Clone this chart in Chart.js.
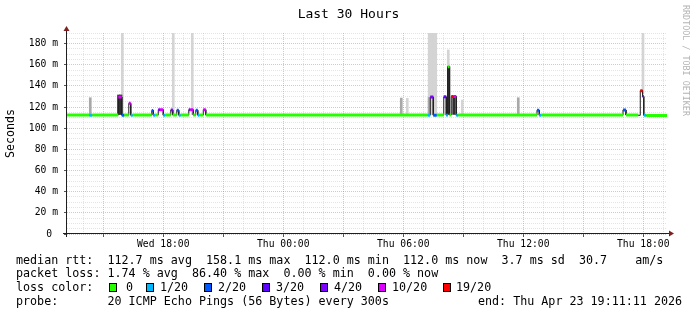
<!DOCTYPE html>
<html>
<head>
<meta charset="utf-8">
<script src="https://cdn.jsdelivr.net/npm/chart.js@4/dist/chart.umd.min.js"></script>
<style>
  html, body { margin: 0; padding: 0; background: #fff; }
  #wrap { position: relative; width: 697px; height: 315px; font-family: "DejaVu Sans Mono", monospace; }
  #c { position: absolute; left: 0; top: 0; }
  .leg { position: absolute; font-size: 11.7px; line-height: 14px; white-space: pre; color: #000; }
  .box { position: absolute; top: 283px; width: 6px; height: 7px; border: 1px solid #000; }
  #mark { position: absolute; left: 681px; top: 5px; writing-mode: vertical-rl; font-size: 8.4px; line-height: 10px; color: #b4b4b4; }
</style>
</head>
<body>
<div id="wrap">
  <canvas id="c" width="697" height="315"></canvas>
  <div id="mark">RRDTOOL / TOBI OETIKER</div>
  <div id="legend"></div>
</div>
<script>
// time axis in hours since Wed 00:00
const startH = 13 + 11 / 60 + 11 / 3600;   // Wed 13:11:11
const endH = startH + 30;                  // Thu 19:11:11

const xLabelHours = [18, 24, 30, 36, 42];
const xLabels = ['Wed 18:00', 'Thu 00:00', 'Thu 06:00', 'Thu 12:00', 'Thu 18:00'];

// median rtt (ms), one entry per step where value/loss changes
const segStart = [13.19, 14.30, 14.45, 15.75, 15.925, 16.05, 16.275, 16.375, 16.475, 17.425,
  17.50, 17.60, 17.75, 17.835, 18.00, 18.10, 18.375, 18.475, 18.675, 18.775,
  18.875, 19.275, 19.35, 19.50, 19.625, 19.725, 19.80, 20.00, 20.125, 31.225,
  31.35, 31.50, 31.675, 32.025, 32.15, 32.225, 32.315, 32.40, 32.525, 32.65,
  32.75, 36.685, 36.80, 36.90, 40.985, 41.135, 41.75, 41.85, 41.965, 42.025, 42.15];
const segMedian = [112.4, 112.3, 112.4, 129.5, 112.3, 112.4, 123.5, 112.3, 112.4, 116.8,
  112.3, 112.4, 117.5, 117.5, 112.3, 112.4, 117.3, 112.4, 117.0, 112.3,
  112.4, 117.5, 117.5, 112.4, 117.0, 112.3, 112.4, 117.5, 112.4, 112.3,
  129.6, 112.3, 112.4, 129.7, 112.3, 158.1, 112.5, 130.0, 130.0, 112.3,
  112.4, 117.0, 112.3, 112.4, 117.3, 112.4, 112.2, 135.5, 130.0, 112.3, 112.0];
// lost pings out of 20 (-1 = no colour)
const segLoss = [0, 1, 0, 10, 2, 0, 10, 1, 0, 2,
  1, 0, 4, 10, 1, 0, 4, 0, 2, 1,
  0, 4, 10, 0, 2, 1, 0, 10, 0, 1,
  4, 2, 0, 3, 1, 0, 0, 19, 10, 1,
  0, 2, 1, 0, 2, 0, -1, 19, 4, 1, 0];

const lossKeys = [0, 1, 2, 3, 4, 10, 19];
const lossNames = ['0', '1/20', '2/20', '3/20', '4/20', '10/20', '19/20'];
const lossColors = ['#26ff00', '#00b8ff', '#0059ff', '#5e00ff', '#7e00ff', '#dd00ff', '#ff0000'];

// smoke (ping spread), ms
const lightT = [15.95, 18.50, 19.45, 30.20, 31.295, 31.38, 31.46, 31.545, 31.625, 32.25, 32.95, 41.985];
const lightLo = [113, 113, 113, 113, 113, 113, 113, 113, 113, 158, 113, 133];
const lightHi = [200, 200, 200, 128.3, 200, 200, 200, 200, 200, 174, 126.6, 200];
const midT = [14.35, 29.90, 31.29, 35.75];
const midLo = [113, 113, 113, 113];
const midHi = [128.8, 128.5, 129, 128.8];
const darkT = [15.775, 15.875, 32.265, 32.53];
const darkLo = [113, 113, 113, 113];
const darkHi = [131.4, 131.4, 158.1, 130];

function segEnd(i) { return i + 1 < segStart.length ? segStart[i + 1] : endH; }

const medianPts = [];
segStart.forEach((t, i) => {
  medianPts.push({ x: t, y: segMedian[i] }, { x: segEnd(i), y: segMedian[i] });
});

const lossSets = lossKeys.map((k, n) => {
  const pts = [];
  segStart.forEach((t, i) => {
    if (segLoss[i] === k) {
      pts.push({ x: t, y: segMedian[i] }, { x: segEnd(i), y: segMedian[i] }, { x: segEnd(i), y: null });
    }
  });
  return {
    type: 'line', data: pts, borderColor: lossColors[n], borderWidth: 3,
    borderCapStyle: 'butt', pointRadius: 0, spanGaps: false, order: 1
  };
});

function smoke(t, lo, hi, color, w) {
  return {
    type: 'bar', data: t.map((x, i) => ({ x: x, y: [lo[i], hi[i]] })),
    backgroundColor: color, borderWidth: 0, barThickness: w, grouped: false, clip: 0, order: 3
  };
}

const axes = {
  id: 'axes',
  afterDatasetsDraw(chart) {
    const { ctx, chartArea: a } = chart;
    const ax = a.left - 0.5, ay = a.bottom - 0.5;
    ctx.save();
    ctx.strokeStyle = '#1f1f1f';
    ctx.lineWidth = 1;
    ctx.beginPath();
    ctx.moveTo(a.left - 4, ay); ctx.lineTo(a.right + 3, ay);
    ctx.moveTo(ax, a.bottom + 3); ctx.lineTo(ax, a.top - 3);
    ctx.stroke();
    ctx.fillStyle = '#801f1f';
    ctx.beginPath();
    ctx.moveTo(a.right + 2, ay - 3); ctx.lineTo(a.right + 7, ay); ctx.lineTo(a.right + 2, ay + 3);
    ctx.closePath(); ctx.fill();
    ctx.beginPath();
    ctx.moveTo(ax - 3, a.top - 2); ctx.lineTo(ax, a.top - 7); ctx.lineTo(ax + 3, a.top - 2);
    ctx.closePath(); ctx.fill();
    ctx.restore();
  }
};

const gridGray = 'rgba(150,150,150,0.26)';
const gridRed = 'rgba(222,79,79,0.38)';
const axisFont = { family: 'DejaVu Sans Mono', size: 9.7 };

Chart.defaults.font.family = 'DejaVu Sans Mono';

new Chart(document.getElementById('c'), {
  type: 'bar',
  data: {
    datasets: [
      ...lossSets,
      { type: 'line', data: medianPts, borderColor: '#202020', borderWidth: 1, pointRadius: 0, order: 2 },
      smoke(darkT, darkLo, darkHi, '#303030', 2.5),
      smoke(midT, midLo, midHi, '#a8a8a8', 2),
      smoke(lightT, lightLo, lightHi, '#d4d4d4', 2)
    ]
  },
  options: {
    responsive: false,
    animation: false,
    devicePixelRatio: 1,
    layout: { padding: 0 },
    plugins: {
      legend: { display: false },
      tooltip: { enabled: false },
      title: {
        display: true, text: 'Last 30 Hours', color: '#000',
        font: { family: 'DejaVu Sans Mono', size: 13, weight: 'normal' },
        padding: { top: 6.5, bottom: 10.9 }
      }
    },
    scales: {
      x: {
        type: 'linear', min: startH, max: endH, offset: false,
        afterBuildTicks: s => {
          const t = [];
          for (let h = Math.ceil(startH); h <= Math.floor(endH); h++) t.push({ value: h });
          s.ticks = t;
        },
        afterFit: s => { s.height = 81; },
        ticks: {
          autoSkip: false, maxRotation: 0, color: '#000', font: axisFont, padding: 2,
          callback: v => { const i = xLabelHours.indexOf(v); return i >= 0 ? xLabels[i] : ''; }
        },
        grid: {
          offset: false, lineWidth: 1, tickLength: 3,
          color: c => (c.tick && c.tick.value % 3 === 0) ? gridRed : gridGray,
          tickColor: c => (c.tick && c.tick.value % 3 === 0) ? '#555' : 'rgba(0,0,0,0)'
        },
        border: { display: false, dash: [1, 1] }
      },
      y: {
        type: 'linear', min: 0, max: 190,
        afterFit: s => { s.width = 67; },
        ticks: {
          stepSize: 5, autoSkip: false, color: '#000', font: axisFont, padding: 6,
          callback: v => v === 0 ? '0 ' : (v % 20 === 0 ? v + ' m' : '')
        },
        grid: {
          lineWidth: 1, tickLength: 3,
          color: c => (c.tick && c.tick.value % 20 === 0) ? gridRed : gridGray,
          tickColor: c => (c.tick && c.tick.value % 20 === 0) ? '#555' : 'rgba(0,0,0,0)'
        },
        border: { display: false, dash: [1, 1] },
        title: {
          display: true, text: 'Seconds', color: '#000',
          font: { family: 'DejaVu Sans Mono', size: 11.6 }, padding: { top: 4, bottom: 0 }
        }
      },
      // empty right margin so the title centres on the whole image
      yRight: {
        type: 'linear', position: 'right', display: true,
        afterFit: s => { s.width = 30; },
        ticks: { display: false },
        grid: { display: false, drawTicks: false },
        border: { display: false }
      }
    }
  },
  plugins: [axes]
});

// legend text below the chart
const legend = document.getElementById('legend');
function addText(txt, left, top) {
  const d = document.createElement('div');
  d.className = 'leg';
  d.style.left = left + 'px';
  d.style.top = top + 'px';
  d.textContent = txt;
  legend.appendChild(d);
}
addText('median rtt:  112.7 ms avg  158.1 ms max  112.0 ms min  112.0 ms now  3.7 ms sd  30.7    am/s', 16, 253);
addText('packet loss: 1.74 % avg  86.40 % max  0.00 % min  0.00 % now', 16, 266);
addText('loss color:', 16, 280);
addText('probe:       20 ICMP Echo Pings (56 Bytes) every 300s', 16, 294);
addText('end: Thu Apr 23 19:11:11 2026', 478, 294);
const boxX = [109, 146, 204, 262, 320, 378, 443];
const nameX = [126, 160, 218, 276, 334, 392, 456];
lossNames.forEach((n, i) => {
  const b = document.createElement('div');
  b.className = 'box';
  b.style.left = boxX[i] + 'px';
  b.style.background = lossColors[i];
  legend.appendChild(b);
  addText(n, nameX[i], 280);
});
</script>
</body>
</html>
